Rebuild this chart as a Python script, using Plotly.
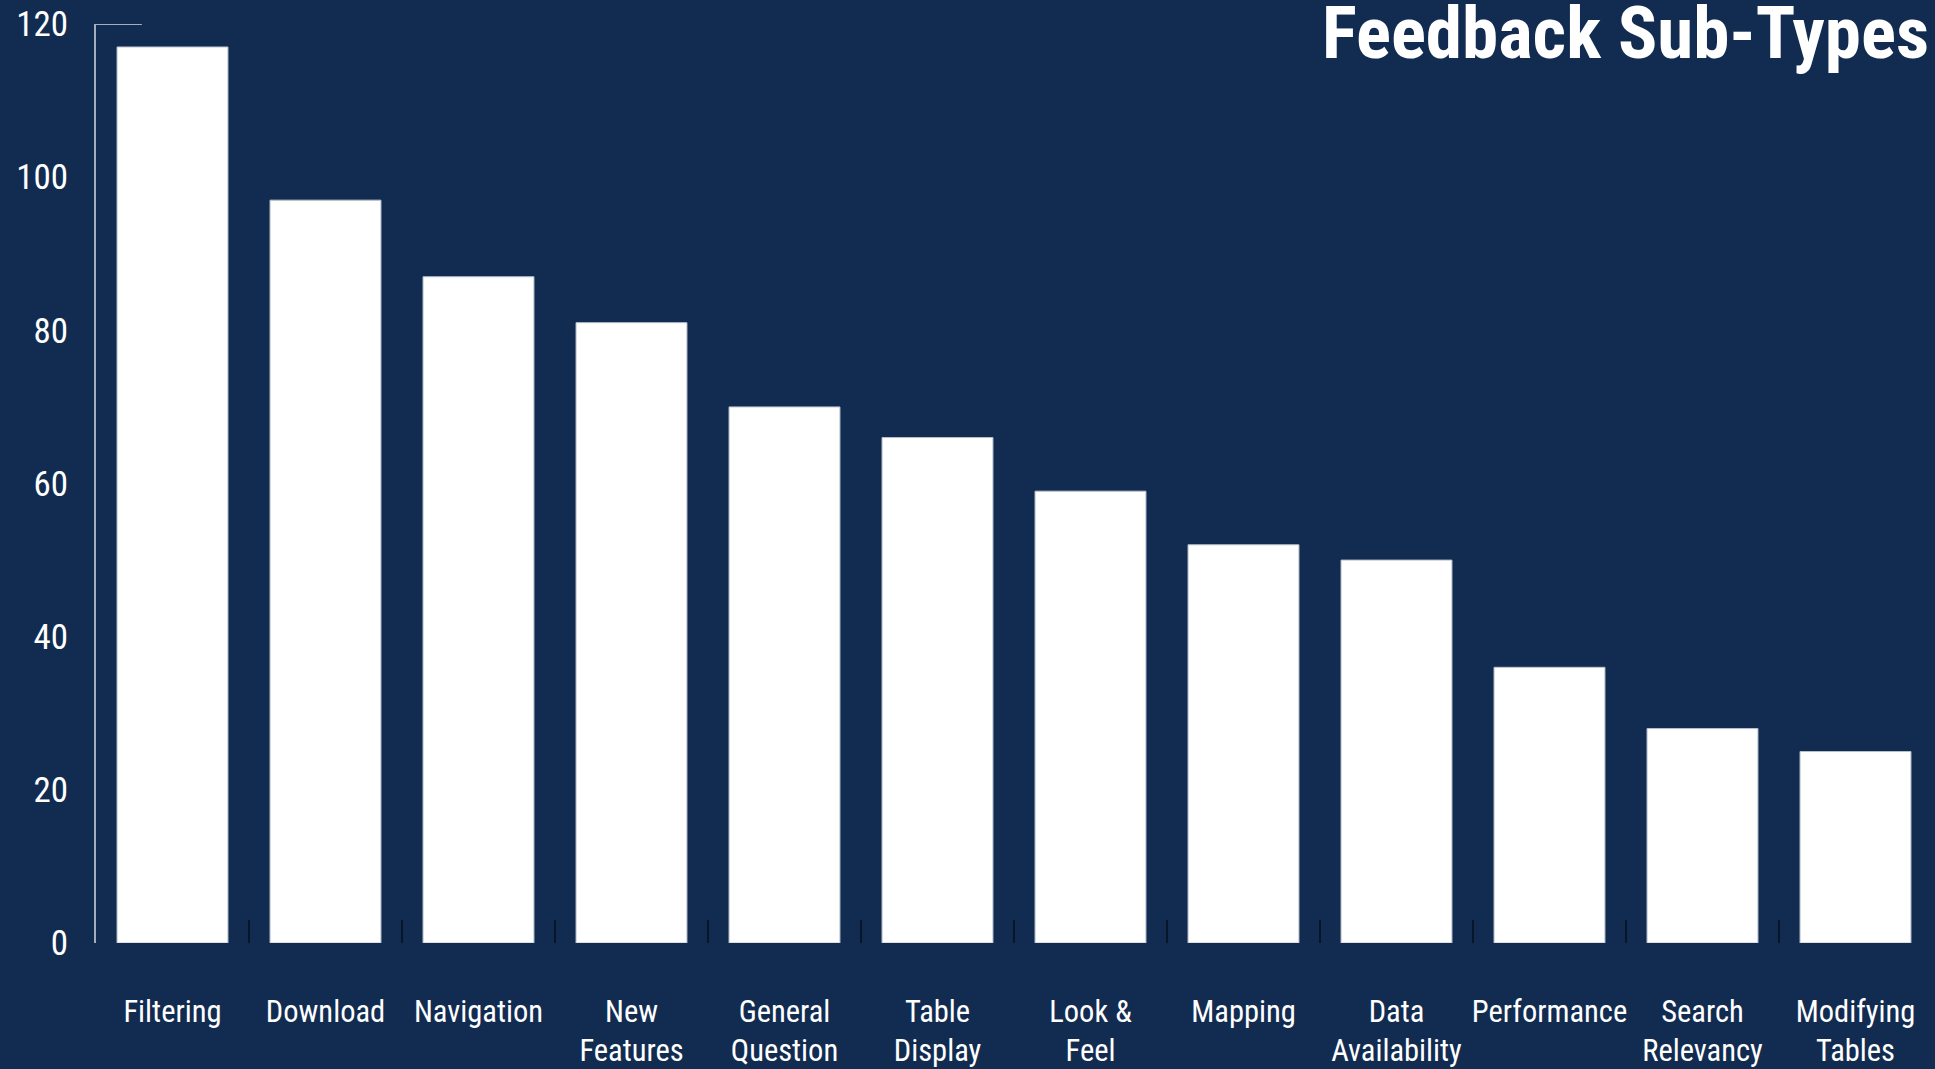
import plotly.graph_objects as go

categories = ["Filtering", "Download", "Navigation", "New<br>Features", "General<br>Question",
              "Table<br>Display", "Look &amp;<br>Feel", "Mapping", "Data<br>Availability",
              "Performance", "Search<br>Relevancy", "Modifying<br>Tables"]
counts = [117, 97, 87, 81, 70, 66, 59, 52, 50, 36, 28, 25]
y_ticks = [0, 20, 40, 60, 80, 100, 120]
title_text = "Feedback Sub-Types"

BG = "#122c51"
FONT = "Roboto Condensed, Liberation Sans Narrow, Roboto, sans-serif"

fig = go.Figure(go.Bar(
    x=categories, y=counts,
    marker=dict(color="#ffffff", line=dict(color="#b9c1cd", width=1)),
    width=0.725,
))

fig.update_layout(
    width=1935, height=1069,
    paper_bgcolor=BG, plot_bgcolor=BG,
    margin=dict(l=96, r=3, t=24, b=126, autoexpand=False),
    showlegend=False,
    font=dict(family=FONT, color="#ffffff"),
    bargap=0.275,
)
fig.update_xaxes(
    showgrid=False, zeroline=False, showline=False, automargin=False,
    ticks="inside", tickson="boundaries", ticklen=23, tickwidth=2, tickcolor="#08162a",
    tickfont=dict(size=30.5, color="#ffffff", family=FONT),
    tickangle=0,
    ticklabelstandoff=47,
    range=[-0.5, 11.5],
)
fig.update_yaxes(
    range=[0, 120], tickvals=y_ticks, showgrid=False, zeroline=False, automargin=False,
    showline=True, linecolor="#a3adbb", linewidth=2, ticks="",
    tickfont=dict(size=35, color="#ffffff", family=FONT),
    ticklabelstandoff=19,
)
fig.add_shape(type="line", xref="paper", yref="y", x0=0, x1=0.025, y0=120, y1=120,
              line=dict(color="#a3adbb", width=2))
fig.add_annotation(text="<b>" + title_text + "</b>", xref="paper", yref="paper",
                   x=1.0, y=1.0 + 24 / 919, xanchor="right", yanchor="top", showarrow=False,
                   xshift=-1, yshift=12,
                   font=dict(size=73, color="#ffffff", family=FONT))

fig.write_html("out.html", config={"displayModeBar": False},
               post_script="document.body.style.margin='0';document.body.style.background='" + BG + "';")
